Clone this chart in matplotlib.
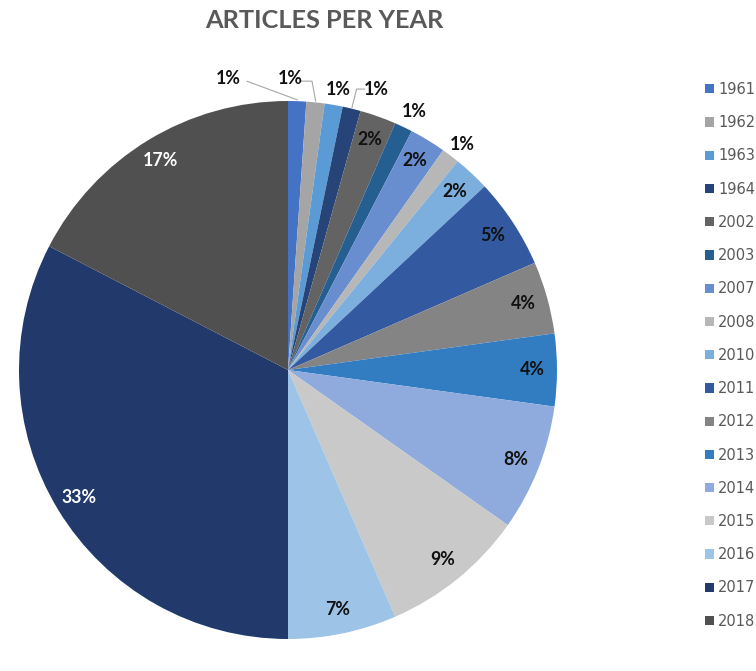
import numpy as np
import matplotlib
matplotlib.use("Agg")
import matplotlib.pyplot as plt

# Articles published per year
years = ['1961', '1962', '1963', '1964', '2002', '2003', '2007', '2008', '2010',
         '2011', '2012', '2013', '2014', '2015', '2016', '2017', '2018']
articles = [1, 1, 1, 1, 2, 1, 2, 1, 2, 5, 4, 4, 7, 8, 6, 30, 16]

colors = ['#4472C4', '#A5A5A5', '#5B9BD5', '#264478', '#636363', '#255E91',
          '#698ED0', '#B7B7B7', '#7CAFDD', '#335AA1', '#848484', '#327DC2',
          '#8FAADC', '#C9C9C9', '#9DC3E6', '#213A6B', '#505050']

W, H = 756, 671
fig = plt.figure(figsize=(W / 100, H / 100), dpi=100)
fig.patch.set_facecolor('white')

# pie geometry in pixels
cx, cy, R = 288, 370, 269
ax = fig.add_axes([(cx - R) / W, (H - cy - R) / H, 2 * R / W, 2 * R / H])
wedges, _ = ax.pie(articles, colors=colors, startangle=90, counterclock=False,
                   radius=1, wedgeprops=dict(linewidth=0))
ax.set_xlim(-1, 1)
ax.set_ylim(-1, 1)
ax.set_aspect('equal')
ax.axis('off')

total = sum(articles)
pct = [f"{round(100 * v / total)}%" for v in articles]

label_font = dict(family=['Lato', 'DejaVu Sans'], fontsize=12.8, fontweight='bold')

# small slices get their labels outside the rim: (clockwise angle from top, radius)
outside = {0: (348.4, 1.107), 1: (0.4, 1.085), 2: (10.1, 1.06),
           3: (17.5, 1.095), 5: (26.1, 1.07), 7: (37.6, 1.06)}
white_text = {15, 16}

def polar(a_cw, r):
    t = np.deg2rad(90 - a_cw)
    return r * np.cos(t), r * np.sin(t)

for i, w in enumerate(wedges):
    if i in outside:
        x, y = polar(*outside[i])
    else:
        mid = np.deg2rad((w.theta1 + w.theta2) / 2)
        x, y = 0.91 * np.cos(mid), 0.91 * np.sin(mid)
    ax.text(x, y, pct[i], ha='center', va='center',
            color='white' if i in white_text else '#111111', **label_font)

# leader lines for the tiniest slices
def rim(i, r=1.0):
    w = wedges[i]
    mid = np.deg2rad((w.theta1 + w.theta2) / 2)
    return r * np.cos(mid), r * np.sin(mid)

lc = dict(color='#A6A6A6', lw=0.8, clip_on=False)
px = 1 / R
# 1961
lx, ly = polar(*outside[0])
ex, ey = rim(0, 1.005)
ax.plot([lx + 19 * px, ex], [ly - 3 * px, ey], **lc)
# 1962
lx, ly = polar(*outside[1])
ex, ey = rim(1, 1.005)
ax.plot([lx + 10 * px, lx + 22 * px, ex], [ly - 3 * px, ly - 3 * px, ey], **lc)
# 1964
lx, ly = polar(*outside[3])
ex, ey = rim(3, 1.005)
ax.plot([lx - 12 * px, lx - 20 * px, ex], [ly, ly, ey], **lc)

fig.text(324 / W, 1 - 21 / H, 'ARTICLES PER YEAR', ha='center', va='center',
         fontsize=18.3, fontweight='bold', color='#595959',
         family=['Lato', 'DejaVu Sans'])

leg = fig.legend(wedges, years, loc='upper left',
                 bbox_to_anchor=(705 / W, 1 - 82 / H), frameon=False,
                 prop=dict(family='DejaVu Sans', size=10.5),
                 labelcolor='#595959', labelspacing=1.25,
                 handlelength=0.6, handleheight=0.6, handletextpad=0.3,
                 borderpad=0, borderaxespad=0)

fig.savefig('out.png', dpi=100, facecolor='white')
